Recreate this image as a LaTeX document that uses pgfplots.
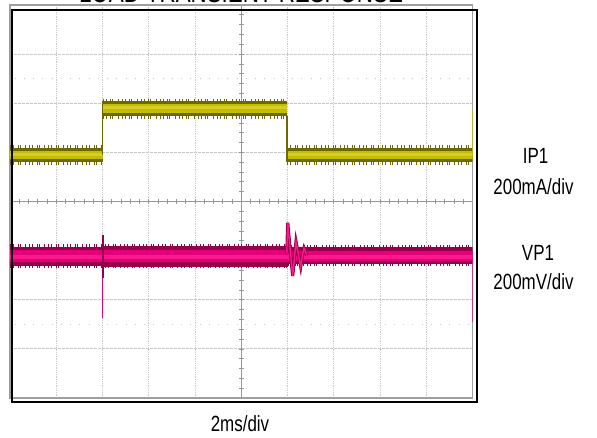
\documentclass[border=0pt]{standalone}
\usepackage{pgfplots}
\pgfplotsset{compat=1.18}
\usepackage{fontspec}
\setmainfont{Liberation Sans}[FakeStretch=0.77]

\definecolor{olivedk}{RGB}{110,104,0}
\definecolor{olivecore}{RGB}{196,188,0}
\definecolor{olivelt}{RGB}{214,206,40}
\definecolor{magdk}{RGB}{150,0,75}
\definecolor{magcore}{RGB}{228,0,120}
\definecolor{maglt}{RGB}{250,25,140}
\definecolor{gridgray}{RGB}{200,200,200}
\definecolor{centergray}{RGB}{150,150,150}

% ragged fringe along the edges of a noisy trace
\tikzset{fringe/.style={line width=3pt, dash pattern=on 0.8pt off 2.2pt on 1pt off 3.6pt on 0.7pt off 1.5pt on 1.1pt off 4.4pt on 0.9pt off 2.8pt}}

\begin{document}
\begin{tikzpicture}[x=1pt,y=1pt]
\useasboundingbox (0,0) rectangle (597,437);

% graticule: 10 x 8 divisions
\foreach \i in {1,...,9}
  \draw[gridgray, densely dotted, line width=0.8pt] ({10+46.25*\i},39) -- ({10+46.25*\i},432);
\foreach \j in {1,...,7}
  \draw[gridgray, dash pattern=on 3pt off 1pt, line width=0.8pt] (10,{39+49.125*\j}) -- (472.5,{39+49.125*\j});
% faint marker rows
\foreach \y in {358.3,112.7}
  \draw[gridgray, dash pattern=on 1pt off 8.25pt, line width=0.8pt] (14.6,\y) -- (472.5,\y);
% centre axes with minor ticks
\draw[centergray, line width=0.8pt] (241.25,39) -- (241.25,432);
\draw[centergray, line width=0.8pt] (10,235.5) -- (472.5,235.5);
\foreach \k in {1,...,39}
  \draw[centergray, line width=0.7pt] (239,{39+9.825*\k}) -- (243.5,{39+9.825*\k});
\foreach \k in {1,...,49}
  \draw[centergray, line width=0.7pt] ({10+9.25*\k},233) -- ({10+9.25*\k},238);

\begin{axis}[
  at={(10pt,39pt)}, anchor=south west,
  width=462.5pt, height=393pt, scale only axis,
  xmin=0, xmax=10, ymin=0, ymax=8,
  ticks=none,
  axis line style={draw=gray!75, line width=1.3pt},
  clip=true,
]
% ---------- IP1 (load current), 200mA/div ----------
% low level
\addplot[olivedk, line width=14pt] coordinates {(0,4.947) (2,4.947)};
\addplot[olivedk, line width=14pt] coordinates {(5.99,4.947) (10,4.947)};
\addplot[olivecore, line width=8pt] coordinates {(0,4.947) (2,4.947)};
\addplot[olivecore, line width=8pt] coordinates {(5.99,4.947) (10,4.947)};
\addplot[olivelt, line width=3pt] coordinates {(0,4.96) (2,4.96)};
\addplot[olivelt, line width=3pt] coordinates {(5.99,4.96) (10,4.96)};
\addplot[olivedk, fringe] coordinates {(0,5.11) (2,5.11)};
\addplot[olivedk, fringe] coordinates {(0,4.78) (2,4.78)};
\addplot[olivedk, fringe] coordinates {(5.99,5.11) (10,5.11)};
\addplot[olivedk, fringe] coordinates {(5.99,4.78) (10,4.78)};
% high level
\addplot[olivedk, line width=15pt] coordinates {(2,5.893) (5.99,5.893)};
\addplot[olivecore, line width=9pt] coordinates {(2,5.893) (5.99,5.893)};
\addplot[olivelt, line width=3pt] coordinates {(2,5.91) (5.99,5.91)};
\addplot[olivedk, fringe] coordinates {(2,6.065) (5.99,6.065)};
\addplot[olivedk, fringe] coordinates {(2,5.72) (5.99,5.72)};
% edges
\addplot[olivedk, line width=1.2pt] coordinates {(2.0,4.95) (2.0,6.05)};
\addplot[olivedk, line width=1.2pt] coordinates {(5.99,5.75) (5.99,4.80)};
\addplot[olivecore, line width=1.2pt] coordinates {(9.995,4.95) (9.995,5.88)};

% ---------- VP1 (output voltage), 200mV/div ----------
\addplot[magdk, line width=19pt] coordinates {(0,2.89) (2,2.89)};
\addplot[magdk, line width=21pt] coordinates {(2,2.89) (6,2.89)};
\addplot[magdk, line width=17pt] coordinates {(6,2.90) (10,2.90)};
\addplot[magcore, line width=12pt] coordinates {(0,2.89) (6,2.89)};
\addplot[magcore, line width=10pt] coordinates {(6,2.90) (10,2.90)};
\addplot[maglt, line width=4pt] coordinates {(0,2.88) (10,2.88)};
\addplot[magdk, fringe] coordinates {(0,3.11) (6,3.11)};
\addplot[magdk, fringe] coordinates {(0,2.67) (6,2.67)};
\addplot[magdk, fringe] coordinates {(6,3.09) (10,3.09)};
\addplot[magdk, fringe] coordinates {(6,2.71) (10,2.71)};
% spike at the load step
\addplot[magdk, line width=1.8pt] coordinates {(2.004,3.318) (2.004,2.45)};
\addplot[magcore, line width=1.2pt] coordinates {(2.004,2.45) (2.004,1.628)};
% ringing at the load release
\addplot[magdk, line width=3.2pt] coordinates {
  (5.985,2.95) (6.005,3.568) (6.04,3.20) (6.112,2.483) (6.15,2.85)
  (6.184,3.182) (6.24,2.90) (6.285,2.673) (6.33,2.95) (6.357,3.053) (6.42,2.90)};
\addplot[maglt, line width=1.4pt] coordinates {
  (5.985,2.95) (6.005,3.568) (6.04,3.20) (6.112,2.483) (6.15,2.85)
  (6.184,3.182) (6.24,2.90) (6.285,2.673) (6.33,2.95) (6.357,3.053) (6.42,2.90)};
% next step begins at the right edge
\addplot[magcore, line width=1.2pt] coordinates {(9.995,2.85) (9.995,1.547)};
\end{axis}

% bezel frame
\draw[black, line width=2pt] (12,426.8) rectangle (476.5,35.5);

% labels
\node[anchor=base, font=\fontsize{29}{30}\selectfont] at (241,434) {LOAD TRANSIENT RESPONSE};
\node[anchor=base, font=\fontsize{22}{24}\selectfont] at (535.5,273) {IP1};
\node[anchor=base, font=\fontsize{22}{24}\selectfont] at (533.5,242) {200mA/div};
\node[anchor=base, font=\fontsize{22}{24}\selectfont] at (538,176) {VP1};
\node[anchor=base, font=\fontsize{22}{24}\selectfont] at (533.5,148) {200mV/div};
\node[anchor=base, font=\fontsize{22}{24}\selectfont] at (240,6) {2ms/div};
\end{tikzpicture}
\end{document}
